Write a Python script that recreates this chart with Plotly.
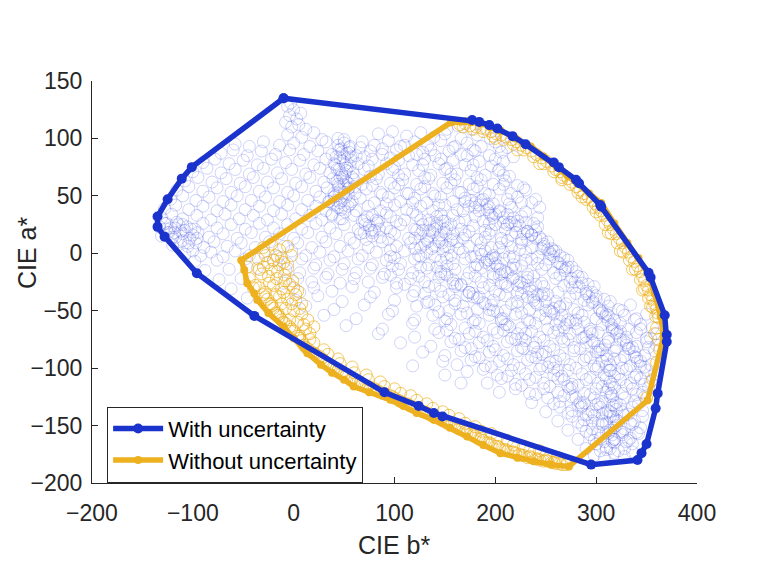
import plotly.graph_objects as go

# ---------------- data (CIE b*, CIE a*) ----------------
blue_pts = [
(-6,128),(0,125),(-3,131),
(-4,120),(3,117),(7,122),(-8,114),
(-2,110),(5,112),(12,108),(163,111),(176,108),(152,108),
(-6,103),(8,101),(20,105),(28,99),(84,104),(98,106),(112,102),(126,105),(139,101),(150,104),(166,100),(182,103),(195,100),
(-58,95),(-44,93),(-30,97),(-14,94),(0,96),(16,93),(32,97),(44,94),(50,99),(56,93),(68,97),(80,94),(94,98),(106,93),(120,97),(133,94),(146,98),(160,93),(172,96),(186,93),(200,97),(212,92),
(-72,87),(-60,90),(-46,85),(-32,89),(-18,86),(-4,90),(10,86),(24,89),(38,86),(45,90),(50,84),(55,88),(62,85),(76,89),(88,86),(102,90),(114,85),(128,88),(140,85),(154,89),(166,86),(180,89),(194,85),(206,88),(218,84),
(-90,79),(-78,82),(-64,78),(-50,81),(-36,77),(-22,82),(-8,79),(6,81),(20,77),(32,82),(40,78),(46,83),(51,77),(57,81),(64,78),(78,82),(92,78),(104,81),(118,77),(130,82),(144,78),(158,81),(170,77),(184,80),(196,76),(208,80),
(-100,71),(-86,74),(-72,70),(-58,73),(-44,69),(-30,74),(-16,70),(-2,73),(12,69),(26,74),(36,70),(43,73),(48,68),(53,74),(59,70),(70,73),(84,69),(98,73),(110,69),(124,72),(136,68),(150,73),(162,69),(176,72),(190,68),(203,72),(214,67),
(-108,63),(-95,66),(-81,62),(-67,65),(-53,61),(-40,66),(-26,62),(-12,65),(2,61),(16,66),(30,62),(39,65),(44,60),(49,66),(54,61),(60,64),(68,60),(82,65),(96,61),(108,64),(122,60),(134,65),(148,61),(160,64),(174,60),(186,64),(198,60),(210,63),(222,59),
(-116,55),(-104,58),(-90,54),(-76,57),(-62,53),(-48,58),(-34,54),(-20,57),(-6,53),(8,58),(22,54),(33,57),(40,52),(45,58),(50,53),(55,57),(61,52),(72,56),(86,53),(100,57),(112,52),(126,56),(138,52),(152,57),(164,53),(178,56),(190,52),(204,56),(216,52),(230,55),
(-122,47),(-110,50),(-97,46),(-84,49),(-70,45),(-56,50),(-42,46),(-28,49),(-14,45),(0,50),(14,46),(26,49),(35,45),(41,50),(46,44),(52,49),(58,45),(66,48),(80,44),(94,49),(106,45),(120,48),(132,44),(146,49),(158,45),(170,48),(180,44),(188,47),(198,43),(212,47),(226,44),(240,47),
(-128,39),(-117,42),(-104,38),(-90,41),(-76,37),(-62,42),(-48,38),(-34,41),(-20,37),(-6,42),(8,38),(22,41),(32,37),(40,42),(47,38),(54,41),(62,37),(74,41),(86,37),(100,42),(112,38),(126,41),(138,37),(150,42),(162,38),(174,41),(184,37),(194,40),(204,36),(216,40),(230,36),(244,40),
(-131,31),(-121,34),(-110,30),(-96,33),(-82,29),(-68,34),(-54,30),(-40,33),(-26,29),(-12,34),(2,30),(16,33),(28,29),(38,34),(48,30),(60,33),(70,29),(78,33),(84,28),(96,32),(110,29),(122,33),(134,29),(142,32),(150,28),(158,33),(170,29),(180,32),(188,28),(198,31),(208,27),(218,31),(230,27),(242,31),
(-133,23),(-126,26),(-118,22),(-110,25),(-102,21),(-90,26),(-76,22),(-62,25),(-48,21),(-34,26),(-20,22),(-6,25),(8,21),(22,26),(36,22),(50,25),(64,21),(71,25),(77,20),(83,26),(92,22),(106,25),(120,21),(128,25),(135,20),(142,26),(149,21),(156,25),(166,21),(178,24),(190,20),(200,25),(210,21),(220,24),(232,19),(242,23),
(-131,15),(-124,18),(-117,14),(-110,17),(-103,13),(-95,18),(-84,14),(-70,17),(-56,13),(-42,18),(-28,14),(-14,17),(0,13),(14,18),(28,14),(42,17),(56,13),(66,17),(72,12),(78,18),(86,14),(100,17),(114,13),(126,17),(132,12),(138,18),(144,13),(151,17),(158,12),(170,16),(182,12),(194,17),(206,13),(216,16),(226,12),(236,16),(246,12),
(-120,7),(-112,10),(-105,6),(-97,9),(-89,5),(-79,10),(-66,6),(-52,9),(-38,5),(-24,10),(-10,6),(4,9),(18,5),(32,10),(46,6),(60,9),(74,5),(88,10),(102,6),(116,9),(126,5),(133,10),(140,6),(147,9),(154,5),(162,10),(174,6),(186,9),(196,5),(206,9),(216,5),(226,9),(236,5),(248,8),(256,4),
(-108,-1),(-100,2),(-92,-2),(-82,1),(-70,-3),(-58,2),(-44,-2),(-30,1),(-16,-3),(-2,2),(12,-2),(26,1),(40,-3),(54,2),(68,-2),(82,1),(96,-3),(110,2),(124,-2),(132,1),(140,-3),(148,2),(156,-2),(168,1),(180,-3),(190,2),(198,-2),(208,1),(218,-3),(230,1),(242,-3),(254,1),(264,-2),
(-98,-7),(-76,-6),(-48,-5),(-20,-6),(-6,-9),(8,-5),(22,-10),(36,-6),(50,-9),(64,-5),(78,-10),(92,-6),(106,-9),(120,-5),(134,-10),(146,-6),(158,-9),(170,-5),(182,-10),(192,-6),(200,-9),(208,-5),(218,-10),(230,-6),(242,-9),(254,-5),(264,-9),(272,-6),
(-88,-15),(-64,-14),(-36,-13),(-8,-14),(6,-17),(20,-13),(34,-18),(48,-14),(62,-17),(76,-13),(90,-18),(104,-14),(118,-17),(132,-13),(146,-18),(160,-14),(174,-17),(186,-13),(198,-18),(205,-14),(212,-17),(220,-13),(232,-18),(246,-14),(258,-17),(270,-13),(280,-16),
(-74,-23),(-52,-22),(-10,-26),(4,-22),(18,-25),(32,-21),(46,-26),(60,-22),(74,-25),(88,-21),(102,-26),(116,-22),(130,-25),(144,-21),(158,-26),(172,-22),(186,-25),(198,-21),(210,-26),(217,-22),(224,-25),(232,-21),(246,-26),(260,-22),(274,-25),(286,-21),
(-62,-31),(6,-34),(20,-30),(38,-33),(58,-29),(80,-34),(102,-30),(120,-33),(134,-29),(146,-33),(160,-29),(174,-34),(188,-30),(200,-33),(212,-29),(222,-34),(228,-30),(236,-33),(248,-29),(262,-34),(276,-30),(290,-33),(298,-29),
(-46,-39),(2,-41),(24,-37),(48,-42),(76,-38),(100,-41),(118,-37),(134,-42),(148,-38),(160,-41),(172,-37),(184,-38),(198,-41),(210,-37),(222,-42),(232,-38),(238,-41),(246,-37),(260,-42),(274,-38),(288,-41),(300,-37),(308,-40),
(12,-46),(40,-49),(70,-45),(98,-50),(122,-46),(140,-45),(154,-50),(168,-46),(182,-49),(196,-45),(210,-50),(222,-46),(234,-49),(242,-45),(250,-50),(264,-46),(278,-49),(292,-45),(304,-50),(312,-46),(322,-49),(334,-45),
(30,-54),(62,-57),(94,-53),(120,-58),(138,-54),(152,-57),(166,-53),(180,-58),(194,-54),(208,-57),(220,-53),(232,-58),(244,-54),(250,-57),(258,-53),(272,-58),(286,-54),(300,-57),(310,-53),(318,-58),(328,-54),(340,-57),(350,-53),
(52,-63),(88,-66),(118,-61),(140,-66),(156,-62),(170,-65),(184,-61),(198,-66),(212,-62),(226,-65),(240,-61),(252,-66),(260,-62),(268,-65),(280,-61),(294,-66),(306,-62),(316,-65),(324,-61),(332,-66),(344,-62),(356,-65),
(84,-70),(120,-73),(144,-69),(160,-74),(174,-70),(188,-73),(202,-69),(216,-74),(230,-70),(244,-73),(258,-69),(266,-74),(274,-70),(288,-73),(302,-69),(312,-74),(320,-70),(330,-73),(340,-69),(350,-74),(360,-70),
(106,-78),(136,-81),(156,-77),(170,-82),(184,-78),(198,-81),(212,-77),(226,-82),(240,-78),(254,-81),(268,-77),(278,-82),(290,-78),(302,-81),(312,-77),(320,-82),(330,-78),(340,-81),(350,-77),(360,-80),
(128,-86),(150,-89),(166,-85),(180,-90),(194,-86),(208,-89),(222,-85),(236,-90),(250,-86),(264,-89),(278,-85),(290,-90),(300,-86),(310,-89),(318,-85),(328,-90),(338,-86),(348,-89),(358,-85),
(118,-98),(148,-94),(162,-97),(176,-93),(190,-98),(204,-94),(218,-97),(232,-93),(246,-98),(260,-94),(274,-97),(288,-93),(298,-98),(306,-94),(314,-97),(324,-93),(334,-98),(344,-94),(354,-97),
(150,-106),(172,-103),(188,-101),(202,-106),(216,-102),(230,-105),(244,-101),(258,-106),(272,-102),(286,-105),(300,-101),(308,-106),(314,-102),(322,-105),(330,-101),(340,-106),(350,-102),(358,-105),
(166,-113),(192,-113),(206,-109),(220,-114),(234,-110),(248,-113),(262,-109),(276,-114),(290,-110),(302,-113),(310,-109),(316,-114),(324,-110),(334,-113),(344,-109),(354,-112),
(204,-121),(220,-118),(234,-122),(248,-118),(262,-121),(276,-117),(288,-122),(300,-118),(310,-121),(318,-117),(326,-122),(336,-118),(346,-121),(352,-117),
(236,-130),(252,-126),(264,-129),(276,-125),(288,-130),(298,-126),(306,-129),(314,-125),(320,-130),(328,-126),(338,-129),(348,-125),
(250,-138),(264,-134),(276,-137),(286,-133),(296,-138),(304,-134),(312,-137),(318,-133),(326,-138),(336,-134),(346,-137),
(262,-146),(276,-142),(288,-145),(298,-141),(306,-146),(314,-142),(320,-145),(328,-141),(338,-146),(346,-142),
(272,-154),(286,-150),(296,-153),(306,-149),(314,-154),(320,-150),(328,-153),(336,-149),(344,-152),
(282,-162),(294,-158),(304,-161),(312,-157),(318,-162),(326,-158),(334,-161),(342,-157),
(290,-170),(300,-166),(310,-169),(318,-165),(328,-170),(336,-166),
(298,-176),(308,-178),(318,-174),(328,-177),(336,-173),
# second layer, central and right part
(66,92),(88,91),(110,94),(136,90),(158,92),(178,90),(204,93),
(70,84),(96,83),(122,86),(146,82),(172,85),(200,82),
(74,76),(100,75),(128,77),(152,74),(178,77),(204,73),
(76,67),(104,68),(130,66),(156,69),(182,66),(208,68),
(78,59),(104,60),(130,58),(156,61),(182,58),(208,60),(228,57),
(88,51),(114,52),(140,50),(166,53),(194,51),(222,49),
(92,43),(118,44),(144,42),(170,45),(192,43),(214,43),(236,44),
(92,35),(118,36),(146,34),(168,37),(194,35),(212,34),(226,32),
(102,28),(126,29),(164,27),(194,26),(214,27),(238,26),
(96,19),(122,20),(174,19),(196,20),(220,18),(240,20),
(94,12),(120,13),(168,13),(190,14),(212,11),(232,12),(252,10),
(96,3),(120,4),(164,4),(184,3),(204,5),(224,3),(246,4),(260,2),
(100,-4),(126,-3),(152,-4),(176,-3),(196,-4),(214,-3),(236,-5),(258,-3),(268,-4),
(98,-11),(126,-12),(152,-11),(180,-12),(194,-10),(226,-11),(250,-10),(276,-12),
(96,-19),(124,-20),(152,-19),(180,-20),(204,-19),(238,-20),(264,-19),(282,-20),
(110,-27),(140,-28),(166,-27),(194,-28),(206,-26),(240,-27),(268,-28),(292,-27),
(130,-35),(154,-36),(178,-35),(204,-36),(226,-35),(252,-36),(280,-35),(296,-34),
(132,-43),(160,-44),(188,-43),(216,-44),(240,-43),(270,-44),(296,-43),(314,-42),
(144,-51),(172,-52),(202,-51),(226,-52),(256,-51),(282,-52),(306,-51),(326,-50),
(150,-59),(178,-60),(206,-59),(234,-60),(264,-59),(288,-60),(312,-59),(338,-58),
(152,-67),(180,-68),(208,-67),(236,-68),(262,-67),(294,-68),(316,-67),(344,-66),
(164,-75),(192,-76),(220,-75),(248,-76),(272,-75),(296,-76),(324,-75),(354,-74),
(176,-83),(200,-84),(228,-83),(258,-84),(284,-83),(304,-84),(332,-83),(352,-82),
(184,-91),(212,-92),(240,-91),(268,-92),(294,-91),(318,-92),(340,-91),
(196,-99),(224,-100),(252,-99),(280,-100),(302,-99),(326,-100),(348,-99),
(212,-107),(240,-108),(266,-107),(294,-108),(318,-107),(338,-108),
(226,-115),(254,-116),(282,-115),(306,-116),(330,-115),(348,-114),
(240,-123),(268,-124),(294,-123),(316,-124),(340,-123),
(258,-131),(282,-132),(302,-131),(324,-132),(342,-131),
(272,-139),(292,-140),(310,-139),(332,-140),
(282,-147),(302,-148),(318,-147),(334,-148),
(290,-155),(310,-156),(324,-155),(340,-156),
(298,-163),(316,-164),(332,-163),
(310,-171),(322,-172),
# dense column near b*=50
(44,100),(50,96),(47,91),(53,87),(42,84),(49,80),(56,76),(45,73),(51,69),(58,66),(43,63),(50,60),(46,55),(54,52),(40,49),(48,46),(56,43),(44,40),(51,36),(38,33),(46,30),(55,92),(41,77),(60,58),(35,45),(57,84),(52,63),(45,52),
(48,88),(52,72),(46,66),(54,56),(42,46),(50,42),
# left cluster
(-128,26),(-122,22),(-116,27),(-112,19),(-106,23),(-100,16),(-120,14),(-110,11),(-104,9),(-96,13),(-125,18),(-98,21),
(-126,21),(-118,18),(-108,20),(-114,25),
# small clusters
(68,28),(75,24),(82,29),(70,18),(78,15),(85,21),(73,32),(80,20),
(128,20),(134,15),(140,21),(146,16),(152,22),(158,17),(130,8),(137,4),(144,10),(150,6),(156,11),(142,24),(135,26),(148,28),
# outer band
(176,46),(184,42),(192,38),(200,34),(208,31),(216,27),(224,24),(232,19),(240,13),(248,6),(255,-1),(262,-8),(269,-15),(276,-22),(283,-29),(290,-35),(297,-42),(303,-48),(309,-55),(315,-62),(321,-69),(327,-76),(333,-83),(338,-90),(344,-98),(186,46),(204,37),(222,28),(244,14),(258,2),(272,-12),(286,-26),(300,-40),(312,-54),(324,-68),(336,-82),
(180,40),(196,33),(212,25),(228,17),(236,16),(252,3),(266,-12),(279,-25),(293,-38),(306,-52),(318,-66),(330,-80),(341,-94),
# inner band
(186,-1),(194,-6),(202,-11),(210,-16),(218,-21),(226,-26),(234,-31),(242,-36),(250,-42),(258,-48),(266,-54),(274,-60),(282,-66),(290,-72),(298,-78),(306,-84),(311,-92),(313,-102),(314,-112),(315,-122),(316,-132),(317,-142),(318,-152),(318,-162),(200,-4),(216,-14),(232,-24),(248,-35),(264,-47),(280,-58),(296,-70),(309,-80),
(190,-8),(206,-18),(222,-28),(238,-38),(254,-50),(270,-62),(286,-74),(302,-86),(310,-98),(312,-118),(314,-138),(316,-158),
# third band
(142,-12),(150,-18),(158,-23),(166,-28),(174,-34),(182,-39),(190,-44),(198,-50),(206,-57),(214,-64),(222,-70),(230,-76),(238,-82),(246,-88),(254,-95),(262,-102),(268,-110),(274,-118),(280,-126),(285,-134),(290,-141),
(146,-16),(162,-27),(178,-38),(194,-49),(210,-62),(226,-74),(242,-86),(258,-100),(272,-116),(284,-130),
# lower right
(300,-132),(306,-140),(310,-148),(302,-156),(308,-164),(314,-170),(322,-146),(326,-156),(320,-136),(330,-164),(296,-146),(304,-172),
]

orange_pts = [
# cluster
(-30,5),(-22,8),(-14,3),(-6,6),(-2,-2),
(-35,-5),(-28,-2),(-20,-6),(-12,-4),(-30,-12),(-22,-14),(-14,-10),(-6,-13),(-25,-20),(-17,-22),(-9,-19),(-1,-24),
(-20,-28),(-12,-31),(-4,-27),(4,-33),(-14,-38),(-6,-40),(2,-36),(8,-44),(-8,-48),(0,-50),(8,-53),(14,-58),(4,-60),
(12,-66),(20,-64),(-32,-18),(-38,-28),(-28,-34),(-22,-44),(-16,-52),(-4,-58),(6,-72),(16,-75),
(-44,-22),(-46,-12),(-40,-30),
(-26,-8),(-18,-2),(-10,-8),(-34,-14),(-24,-26),(-16,-16),(-8,-24),(0,-30),(-10,-34),(-2,-44),(6,-48),(-12,-44),
(10,-62),(16,-70),(-18,-36),
# lower-left band
(-30,-36),(-24,-44),(-18,-52),(-12,-58),(-4,-64),(4,-72),(10,-80),(18,-86),(26,-90),(32,-96),(40,-100),(48,-104),
(56,-110),(64,-112),(72,-116),(80,-118),(88,-122),(96,-124),(104,-128),(112,-131),(120,-134),(128,-138),(136,-141),
(144,-144),(152,-148),(160,-151),(168,-154),(176,-157),(184,-162),(192,-165),(200,-168),(208,-171),(216,-173),
(224,-175),(232,-178),(240,-179),(248,-181),(256,-182),(264,-183),(270,-184),
(20,-78),(34,-88),(46,-96),(60,-104),(74,-110),(90,-116),(106,-122),(122,-128),(138,-135),(154,-141),(170,-148),
(186,-155),(202,-161),(218,-167),(234,-172),(250,-176),(262,-178),
(-26,-40),(-20,-48),(-14,-55),(-8,-61),(0,-68),(8,-76),(14,-83),(22,-88),(30,-93),(36,-98),(44,-102),(52,-107),
(60,-111),(68,-114),(76,-117),(84,-120),(92,-123),(100,-126),(108,-130),(116,-133),(124,-136),(132,-139),(140,-143),
(148,-146),(156,-149),(164,-153),(172,-156),(180,-159),(188,-163),(196,-166),(204,-169),(212,-172),(220,-174),
(228,-176),(236,-178),(244,-180),(252,-181),(260,-183),(266,-184),
(30,-84),(44,-92),(58,-99),(72,-106),(86,-112),(100,-118),(116,-124),(132,-131),(148,-138),(164,-144),(180,-151),
(196,-157),(212,-163),(228,-168),(244,-172),
(-34,-30),(-28,-38),(-22,-46),(-16,-54),(-10,-60),(-2,-66),(6,-74),(12,-82),(20,-87),(28,-92),(34,-97),(42,-101),
(50,-106),(58,-110),(66,-113),(74,-116),(82,-119),(90,-122),(98,-125),(106,-129),(114,-132),(122,-135),(130,-138),
(138,-142),(146,-145),(154,-148),(162,-152),(170,-155),(178,-158),(186,-161),(194,-165),(202,-168),(210,-171),
(218,-173),(226,-176),(234,-177),(242,-179),(250,-180),(258,-182),
# upper-right band
(165,112),(175,111),(186,109),(196,106),(206,103),(216,99),(226,94),(236,89),(246,83),(256,76),(264,71),(272,65),
(280,58),(288,52),(296,46),(302,40),(308,33),(314,25),(320,17),(326,9),(332,1),(338,-7),(344,-16),(348,-24),
(352,-32),(356,-40),(360,-48),(362,-56),
(200,100),(222,90),(244,78),(266,64),(286,49),(300,36),(312,18),(324,2),(336,-14),(346,-32),(354,-46),
(170,113),(181,110),(191,108),(201,104),(211,101),(221,97),(231,92),(241,86),(251,80),(260,73),(268,68),(276,62),
(284,55),(292,49),(299,43),(305,37),(311,29),(317,21),(323,13),(329,5),(335,-3),(341,-11),(346,-20),(350,-28),
(354,-36),(358,-44),(361,-52),
(168,110),(178,108),(188,106),(198,102),(208,99),(218,95),(228,90),(238,84),(248,78),(258,71),(266,66),(274,60),
(282,53),(290,47),(297,40),(304,33),(309,25),(315,17),(321,9),(327,1),(333,-6),(339,-14),(344,-23),(348,-31),
(352,-39),(356,-47),(359,-55),
(360,-65),(362,-75),(358,-70),(350,-126),(356,-110),(360,-95),(363,-84),
]

hull_with_b = [-10, 177, 184, 194, 202, 217, 230, 258, 263, 280, 283, 304, 305, 352, 354, 368, 370, 370,
               361, 359, 350, 345, 341, 295, 147.5, 139, 124, 90, -39, -96, -128, -135, -135, -125, -111, -101, -10]
hull_with_a = [135, 116, 114.4, 111.6, 108.7, 102, 95, 79, 75, 64, 61, 42, 40.5, -17, -21, -54, -71, -77,
               -122, -135, -166, -174, -180, -184, -142, -139, -133, -121, -54.5, -17.4, 14.5, 23, 32, 47, 65, 75, 135]

hull_without_b = [156, 166, 176, 185.5, 195, 205, 220, 235, 248, 261, 272, 281, 293, 305, 318, 331, 342, 351,
                  358, 364, 367, 351, 273, 255, 238, 222, 205, 188, 172, 155, 139, 122, 109, 96, 75, 59.5, 50,
                  38, 27, 13.6, 0, -10, -25, -36, -39, -46, -49, -52, 156]
hull_without_a = [114, 114.5, 114, 113, 110, 107, 100, 93, 84, 75, 67, 61, 52, 43.7, 26, 9, -4, -17,
                  -35, -55, -72, -128, -185.6, -184, -181, -178, -174, -167, -159.5, -152, -145, -139, -133,
                  -127.6, -121, -116, -110, -104, -97, -87, -74, -64, -52, -40.6, -35, -26, -14.5, -6, 114]

x_ticks = [-200, -100, 0, 100, 200, 300, 400]
x_tick_labels = ["\u2212200", "\u2212100", "0", "100", "200", "300", "400"]
y_ticks = [-200, -150, -100, -50, 0, 50, 100, 150]
y_tick_labels = ["\u2212200", "\u2212150", "\u2212100", "\u221250", "0", "50", "100", "150"]
x_title = "CIE b*"
y_title = "CIE a*"

BLUE = "#1a33cc"
ORANGE = "#edb120"
FONT = "Liberation Sans, Arial, Helvetica, sans-serif"
TXT = "#262626"

fig = go.Figure()
fig.add_trace(go.Scatter(
    x=[p[0] for p in blue_pts], y=[p[1] for p in blue_pts], mode="markers", showlegend=False,
    hoverinfo="skip",
    marker=dict(symbol="circle-open", size=12, color="rgba(40,60,225,0.22)", line=dict(width=1)),
))
fig.add_trace(go.Scatter(
    x=[p[0] for p in orange_pts], y=[p[1] for p in orange_pts], mode="markers", showlegend=False,
    hoverinfo="skip",
    marker=dict(symbol="circle-open", size=12, color="rgba(237,177,32,0.7)", line=dict(width=1)),
))
fig.add_trace(go.Scatter(
    x=hull_without_b, y=hull_without_a, mode="lines+markers", name="Without uncertainty",
    line=dict(color=ORANGE, width=5.5), marker=dict(color=ORANGE, size=8),
))
fig.add_trace(go.Scatter(
    x=hull_with_b, y=hull_with_a, mode="lines+markers", name="With uncertainty",
    line=dict(color=BLUE, width=5.5), marker=dict(color=BLUE, size=10),
))

axis_common = dict(
    showgrid=False, zeroline=False, showline=True, linecolor=TXT, linewidth=1,
    ticks="inside", ticklen=6, tickcolor=TXT, mirror=False, automargin=False,
    tickfont=dict(family=FONT, size=23, color=TXT),
)
fig.update_layout(
    width=761, height=586,
    margin=dict(l=84, r=72, t=73, b=111),
    paper_bgcolor="white", plot_bgcolor="white",
    font=dict(family=FONT, color=TXT),
    xaxis=dict(range=[-200, 400], tickvals=x_ticks, ticktext=x_tick_labels, ticklabelstandoff=9,
               **axis_common),
    yaxis=dict(range=[-200, 150], tickvals=y_ticks, ticktext=y_tick_labels, ticklabelstandoff=4,
               **axis_common),
    legend=dict(x=0.025, y=0.19, xanchor="left", yanchor="top", traceorder="reversed",
                bgcolor="white", bordercolor=TXT, borderwidth=1,
                font=dict(family=FONT, size=22, color="black"), itemwidth=50,
                tracegroupgap=0),
    showlegend=True,
    annotations=[
        dict(text=x_title, xref="paper", yref="paper", x=0.5008, y=-0.154, xanchor="center", yanchor="middle",
             showarrow=False, font=dict(family=FONT, size=25, color=TXT)),
        dict(text=y_title, xref="paper", yref="paper", x=-0.1074, y=0.572, xanchor="center", yanchor="middle",
             textangle=-90, showarrow=False, font=dict(family=FONT, size=25, color=TXT)),
    ],
)
fig.write_html("out.html")
